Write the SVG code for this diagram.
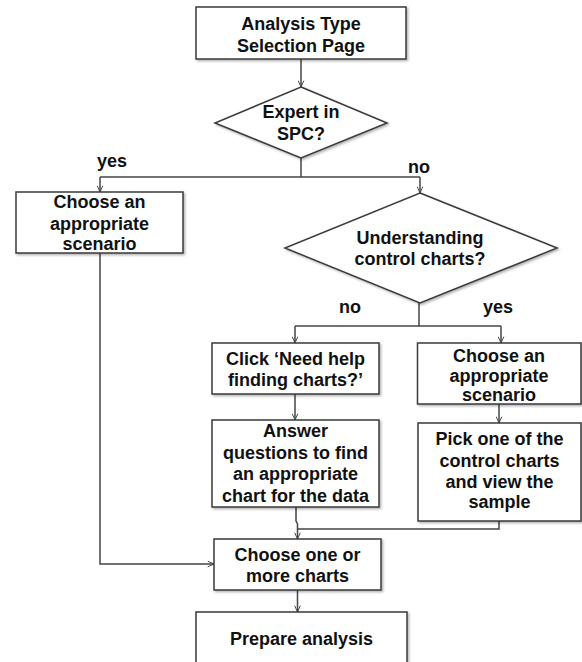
<svg xmlns="http://www.w3.org/2000/svg" width="582" height="662" viewBox="0 0 582 662">
<style>
.box{fill:#fff;stroke:#3a3a3a;stroke-width:1.5;filter:url(#sh)}
.t{font-family:"Liberation Sans",Arial,sans-serif;font-weight:bold;font-size:18px;fill:#111;text-anchor:middle}
.c{fill:none;stroke:#444;stroke-width:1.5}
</style>
<defs>
<filter id="sh" x="-10%" y="-10%" width="130%" height="130%">
<feDropShadow dx="1.5" dy="1.5" stdDeviation="0.8" flood-color="#000" flood-opacity="0.3"/>
</filter>
<marker id="ar" viewBox="0 0 10 10" refX="10" refY="5" markerWidth="7" markerHeight="7" markerUnits="userSpaceOnUse" orient="auto">
<path d="M1,1 L10,5 L1,9" fill="none" stroke="#444" stroke-width="1.4"/>
</marker>
</defs>
<rect width="582" height="662" fill="#fff"/>
<g id="connectors">
<path class="c" d="M301,59 V87" marker-end="url(#ar)"/>
<path class="c" d="M301,158 V177"/>
<path class="c" d="M100,177 H420"/>
<path class="c" d="M100,177 V192" marker-end="url(#ar)"/>
<path class="c" d="M420,177 V193" marker-end="url(#ar)"/>
<path class="c" d="M100,253 V564 H214" marker-end="url(#ar)"/>
<path class="c" d="M419,303 V326"/>
<path class="c" d="M295,326 H501"/>
<path class="c" d="M295,326 V343" marker-end="url(#ar)"/>
<path class="c" d="M501,326 V343" marker-end="url(#ar)"/>
<path class="c" d="M295,394 V420" marker-end="url(#ar)"/>
<path class="c" d="M499,404 V423" marker-end="url(#ar)"/>
<path class="c" d="M296,507 V521 L297.5,524 V539" marker-end="url(#ar)"/>
<path class="c" d="M499,521 V529 H297.5"/>
<path class="c" d="M297.5,590 V612" marker-end="url(#ar)"/>
<text class="t" x="112" y="167">yes</text>
<text class="t" x="419" y="173">no</text>
<text class="t" x="350" y="313">no</text>
<text class="t" x="498" y="313">yes</text>
</g>
<g id="n1">
<rect class="box" x="196" y="7" width="210" height="52"/>
<text class="t" x="301" y="30">Analysis Type</text>
<text class="t" x="301" y="52">Selection Page</text>
</g>
<g id="n2">
<polygon class="box" points="301,87 387,123 301,158 215,123"/>
<text class="t" x="301" y="118">Expert in</text>
<text class="t" x="301" y="140">SPC?</text>
</g>
<g id="n3">
<rect class="box" x="16" y="192" width="167" height="61"/>
<text class="t" x="99.5" y="208">Choose an</text>
<text class="t" x="99.5" y="230">appropriate</text>
<text class="t" x="99.5" y="250">scenario</text>
</g>
<g id="n4">
<polygon class="box" points="420,193 557,248 420,303 285,248"/>
<text class="t" x="420" y="244">Understanding</text>
<text class="t" x="420" y="265">control charts?</text>
</g>
<g id="n5">
<rect class="box" x="212" y="343" width="167" height="51"/>
<text class="t" x="295.5" y="365">Click ‘Need help</text>
<text class="t" x="295.5" y="386">finding charts?’</text>
</g>
<g id="n6">
<rect class="box" x="417.5" y="343" width="163.5" height="61"/>
<text class="t" x="499" y="362">Choose an</text>
<text class="t" x="499" y="382">appropriate</text>
<text class="t" x="499" y="401">scenario</text>
</g>
<g id="n7">
<rect class="box" x="212" y="420" width="167" height="87"/>
<text class="t" x="295.5" y="437">Answer</text>
<text class="t" x="295.5" y="459">questions to find</text>
<text class="t" x="295.5" y="480">an appropriate</text>
<text class="t" x="295.5" y="502">chart for the data</text>
</g>
<g id="n8">
<rect class="box" x="418" y="423" width="163" height="98"/>
<text class="t" x="499.5" y="445">Pick one of the</text>
<text class="t" x="499.5" y="467">control charts</text>
<text class="t" x="499.5" y="488">and view the</text>
<text class="t" x="499.5" y="508">sample</text>
</g>
<g id="n9">
<rect class="box" x="214" y="539" width="167" height="51"/>
<text class="t" x="297.5" y="561">Choose one or</text>
<text class="t" x="297.5" y="582">more charts</text>
</g>
<g id="n10">
<rect class="box" x="196" y="612" width="211" height="64"/>
<text class="t" x="301.5" y="645">Prepare analysis</text>
</g>
</svg>
